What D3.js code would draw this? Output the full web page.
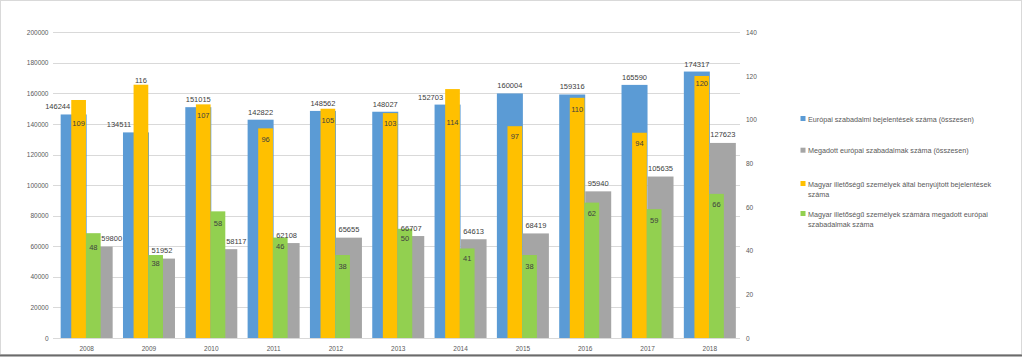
<!DOCTYPE html>
<html>
<head>
<meta charset="utf-8">
<script src="https://cdn.jsdelivr.net/npm/d3@7"></script>
<style>
  body { margin: 0; background: #fff; }
  text { font-family: "Liberation Sans", Arial, sans-serif; }
</style>
</head>
<body>
<div id="chart"></div>
<script>
// data
const years = ['2008', '2009', '2010', '2011', '2012', '2013', '2014', '2015', '2016', '2017', '2018'];
const euApplications = [146244, 134511, 151015, 142822, 148562, 148027, 152703, 160004, 159316, 165590, 174317];
const euGrants = [59800, 51952, 58117, 62108, 65655, 66707, 64613, 68419, 95940, 105635, 127623];
const huApplications = [109, 116, 107, 96, 105, 103, 114, 97, 110, 94, 120];
const huGrants = [48, 38, 58, 46, 38, 50, 41, 38, 62, 59, 66];
const leftTicks = [0, 20000, 40000, 60000, 80000, 100000, 120000, 140000, 160000, 180000, 200000];
const rightTicks = [0, 20, 40, 60, 80, 100, 120, 140];
const seriesNames = [
  ['Európai szabadalmi bejelentések száma (összesen)'],
  ['Megadott európai szabadalmak száma (összesen)'],
  ['Magyar illetőségű személyek által benyújtott bejelentések', 'száma'],
  ['Magyar illetőségű személyek számára megadott európai', 'szabadalmak száma']
];
const colors = ['#5B9BD5', '#A5A5A5', '#FFC000', '#92D050'];

// label nudges (Excel labels that were moved by hand)
const blueDx = [-16, -17, 0, 0, 0, 0, -17, 0, 0, 0, 0];
const grayDx = [12, 0, 12, 0, 0, 0, 0, 0, 0, 0, 0];
const yellowDy = [23, -4, 11, 11, 12, 10, 33, 10, 11.5, 10.5, 7];
const greenDy = [14, 8, 12, 9, 11, 9.5, 10, 11, 10.7, 10.8, 10];

const W = 1024, H = 358;
const svg = d3.select('#chart').append('svg')
  .attr('width', W).attr('height', H);

svg.append('rect')
  .attr('x', 0.5).attr('y', 0.5)
  .attr('width', W - 3).attr('height', H - 4)
  .attr('fill', '#fff')
  .attr('stroke', '#d9d9d9');
svg.append('line')
  .attr('x1', 0).attr('x2', W - 2)
  .attr('y1', H - 2.5).attr('y2', H - 2.5)
  .attr('stroke', '#6b6b6b').attr('stroke-width', 2);

const plot = { left: 55.5, right: 741, top: 32.3, bottom: 338 };

const x = d3.scaleBand()
  .domain(years)
  .range([plot.left, plot.right]);
const bw = x.bandwidth();

const xPrim = d3.scaleBand()
  .domain(['app', 'grant'])
  .range([bw / 2 - 26, bw / 2 + 26]);
const xSec = d3.scaleBand()
  .domain(['app', 'grant'])
  .range([bw / 2 - 15.4, bw / 2 + 14]);

const yL = d3.scaleLinear().domain([0, 200000]).range([plot.bottom, plot.top]);
const yR = d3.scaleLinear().domain([0, 140]).range([plot.bottom, plot.top]);

// gridlines
svg.append('g')
  .selectAll('line')
  .data(leftTicks)
  .enter()
  .append('line')
  .attr('x1', plot.left - 2.5)
  .attr('x2', plot.right - 1)
  .attr('y1', d => Math.round(yL(d)) + 0.5)
  .attr('y2', d => Math.round(yL(d)) + 0.5)
  .attr('stroke', '#d9d9d9');

// axes
const axL = svg.append('g')
  .attr('transform', `translate(${plot.left - 7},0)`)
  .call(d3.axisLeft(yL).tickValues(leftTicks).tickFormat(d3.format('d')).tickSize(0).tickPadding(0));
const axR = svg.append('g')
  .attr('transform', `translate(${plot.right + 5},0)`)
  .call(d3.axisRight(yR).tickValues(rightTicks).tickFormat(d3.format('d')).tickSize(0).tickPadding(0));
const axB = svg.append('g')
  .attr('transform', `translate(0,${plot.bottom + 11})`)
  .call(d3.axisBottom(x).tickSize(0).tickPadding(0));
[axL, axR, axB].forEach(g => {
  g.select('.domain').remove();
  g.selectAll('text')
    .attr('fill', '#595959')
    .style('font-size', '6.5px');
});
axB.selectAll('text').attr('dy', '0.32em');

function drawBars(values, inner, key, yScale, color) {
  svg.append('g')
    .selectAll('rect')
    .data(values)
    .enter()
    .append('rect')
    .attr('x', (d, i) => x(years[i]) + inner(key))
    .attr('width', inner.bandwidth())
    .attr('y', d => yScale(d))
    .attr('height', d => plot.bottom - yScale(d))
    .attr('fill', color);
}

drawBars(euApplications, xPrim, 'app', yL, colors[0]);
drawBars(euGrants, xPrim, 'grant', yL, colors[1]);
drawBars(huApplications, xSec, 'app', yR, colors[2]);
drawBars(huGrants, xSec, 'grant', yR, colors[3]);

function drawLabels(values, inner, key, yScale, dxArr, dyFn) {
  svg.append('g')
    .selectAll('text')
    .data(values)
    .enter()
    .append('text')
    .attr('x', (d, i) => x(years[i]) + inner(key) + inner.bandwidth() / 2 + (dxArr ? dxArr[i] : 0))
    .attr('y', (d, i) => yScale(d) + dyFn(i))
    .attr('text-anchor', 'middle')
    .attr('fill', '#404040')
    .style('font-size', '7.5px')
    .text(d => d);
}

drawLabels(euApplications, xPrim, 'app', yL, blueDx, () => -5);
drawLabels(euGrants, xPrim, 'grant', yL, grayDx, () => -5.5);
drawLabels(huApplications, xSec, 'app', yR, null, i => yellowDy[i] + 2.7);
drawLabels(huGrants, xSec, 'grant', yR, null, i => greenDy[i] + 2.7);

// legend
const legendY = [119, 150.7, 184, 214];
const legend = svg.append('g');
seriesNames.forEach((lines, i) => {
  legend.append('rect')
    .attr('x', 800.5).attr('y', legendY[i] - 3)
    .attr('width', 5).attr('height', 5)
    .attr('fill', colors[i]);
  const t = legend.append('text')
    .attr('x', 808).attr('y', legendY[i] + 2.5)
    .attr('fill', '#595959')
    .style('font-size', '7.2px');
  lines.forEach((ln, j) => {
    t.append('tspan')
      .attr('x', 808)
      .attr('dy', j === 0 ? 0 : 10.5)
      .text(ln);
  });
});
</script>
</body>
</html>
